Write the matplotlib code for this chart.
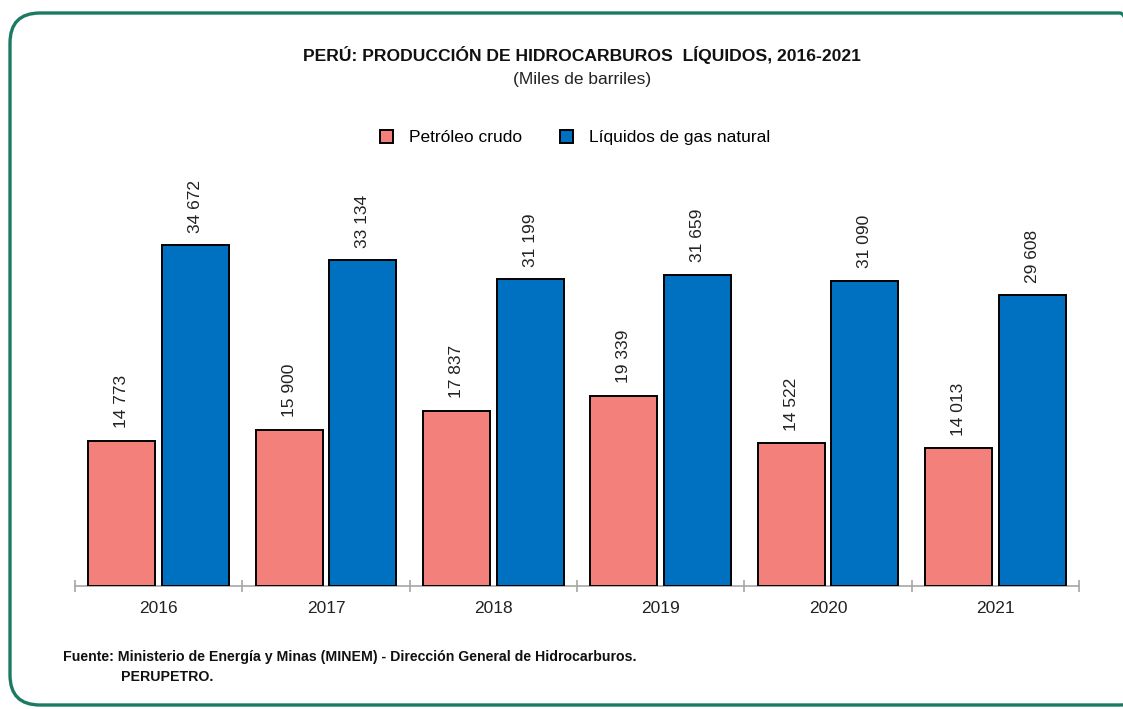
import numpy as np
from matplotlib import pyplot as plt
from matplotlib import patches, transforms

plt.rcParams["font.family"] = ["Liberation Sans Narrow", "Liberation Sans", "DejaVu Sans"]

years = ["2016", "2017", "2018", "2019", "2020", "2021"]
petroleo = [14773, 15900, 17837, 19339, 14522, 14013]
liquidos = [34672, 33134, 31199, 31659, 31090, 29608]

PINK = "#F4807C"
BLUE = "#0070C0"


def fmt(v):
    # thousands separated by a space, as in the source
    return f"{v:,}".replace(",", " ")


fig = plt.figure(figsize=(11.23, 7.09), dpi=100)
ax = fig.add_axes([0.0668, 0.1735, 0.894, 0.62])

x = np.arange(len(years))
w = 0.40
off = 0.22
b1 = ax.bar(x - off, petroleo, w, color=PINK, edgecolor="black", linewidth=1.4,
            label="Petróleo crudo", zorder=3)
b2 = ax.bar(x + off, liquidos, w, color=BLUE, edgecolor="black", linewidth=1.4,
            label="Líquidos de gas natural", zorder=3)

for bars, vals in ((b1, petroleo), (b2, liquidos)):
    for bar, v in zip(bars, vals):
        ax.annotate(fmt(v), (bar.get_x() + bar.get_width() / 2, bar.get_height()),
                    xytext=(0, 9), textcoords="offset points",
                    ha="center", va="bottom", rotation=90, fontsize=12.5,
                    color="#222222")

ax.set_xlim(-0.5, len(years) - 0.5)
# 341 px for 34 672 -> axes height 440 px
ax.set_ylim(0, 44740)
ax.set_yticks([])
for s in ("top", "right", "left"):
    ax.spines[s].set_visible(False)
ax.spines["bottom"].set_color("#A6A6A6")
ax.spines["bottom"].set_linewidth(1.2)

ax.set_xticks(x)
ax.set_xticklabels(years, fontsize=12.5, color="#222222")
ax.tick_params(axis="x", length=0, pad=11)
ax.set_xticks(np.arange(len(years) + 1) - 0.5, minor=True)
ax.tick_params(axis="x", which="minor", direction="inout", length=9,
               color="#A6A6A6", width=1.2)

fig.text(0.518, 0.923, "PERÚ: PRODUCCIÓN DE HIDROCARBUROS  LÍQUIDOS, 2016-2021",
         ha="center", va="center", fontsize=12.6, fontweight="bold", color="#111111")
fig.text(0.518, 0.888, "(Miles de barriles)", ha="center", va="center",
         fontsize=12.5, color="#222222")

handles = [patches.Patch(facecolor=PINK, edgecolor="black", linewidth=1.4),
           patches.Patch(facecolor=BLUE, edgecolor="black", linewidth=1.4)]
fig.legend(handles, ["Petróleo crudo", "Líquidos de gas natural"],
           loc="center", bbox_to_anchor=(0.512, 0.806), ncol=2, frameon=False,
           fontsize=12.5, handlelength=0.75, handleheight=0.75,
           handletextpad=0.9, columnspacing=2.2)

fig.text(0.056, 0.073, "Fuente: Ministerio de Energía y Minas (MINEM) - Dirección General de Hidrocarburos.",
         ha="left", va="center", fontsize=10.2, fontweight="bold", color="#111111")
fig.text(0.108, 0.045, "PERUPETRO.", ha="left", va="center", fontsize=10.2,
         fontweight="bold", color="#111111")

# rounded green frame, right side runs off the image
frame = patches.FancyBboxPatch((10, 4), 1140, 692,
                               boxstyle="round,pad=0,rounding_size=30",
                               transform=transforms.IdentityTransform(),
                               facecolor="none", edgecolor="#1B7A62", linewidth=2.4)
fig.patches.append(frame)

fig.savefig("out.png", dpi=100)
